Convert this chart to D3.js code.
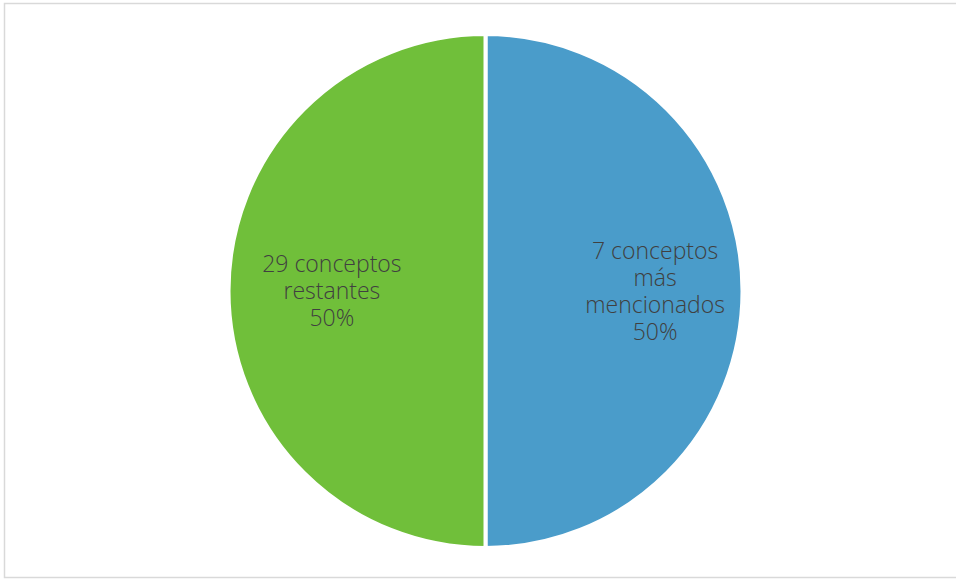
<!DOCTYPE html>
<html>
<head>
<meta charset="utf-8">
<script src="https://cdn.jsdelivr.net/npm/d3@7"></script>
<style>
  body { margin: 0; background: #fff; }
  svg { display: block; }
</style>
</head>
<body>
<div class="chart"></div>
<script>
const categories = ['7 conceptos más mencionados', '29 conceptos restantes']
const values = [50, 50]
const labelLines = [
  ['7 conceptos', 'más', 'mencionados', '50%'],
  ['29 conceptos', 'restantes', '50%']
]
const colors = ['#4A9CCA', '#70BF3A']

const width = 956
const height = 579
const cx = 485.5
const cy = 291
const radius = 257

const svg = d3.select('.chart').append('svg')
  .attr('width', width)
  .attr('height', height)

// chart frame
svg.append('rect')
  .attr('x', 4.5).attr('y', 3.5)
  .attr('width', width).attr('height', 574)
  .attr('fill', 'none')
  .attr('stroke', '#d9d9d9')
  .attr('stroke-width', 1.5)

const pie = d3.pie().sort(null).value(d => d)
const arcs = pie(values)

const arc = d3.arc().innerRadius(0).outerRadius(radius)
const labelArc = d3.arc().innerRadius(radius * 0.66).outerRadius(radius * 0.66)

const g = svg.append('g')
  .attr('transform', `translate(${cx},${cy})`)

g.selectAll('path')
  .data(arcs)
  .enter().append('path')
  .attr('d', arc)
  .attr('fill', (d, i) => colors[i])
  .attr('stroke', '#fff')
  .attr('stroke-width', 4)

// excel nudges the left label towards the centre a bit
const nudge = [0, 16]
const lineH = 27
arcs.forEach((d, i) => {
  const [lx, ly] = labelArc.centroid(d)
  const lines = labelLines[i]
  const text = g.append('text')
    .attr('text-anchor', 'middle')
    .attr('font-family', '"Open Sans", sans-serif')
    .attr('font-weight', 300)
    .attr('font-size', 23)
    .attr('fill', '#404040')
  lines.forEach((t, j) => {
    text.append('tspan')
      .attr('x', lx + nudge[i])
      .attr('y', ly + (j - (lines.length - 1) / 2) * lineH + 8)
      .text(t)
  })
})
</script>
</body>
</html>
